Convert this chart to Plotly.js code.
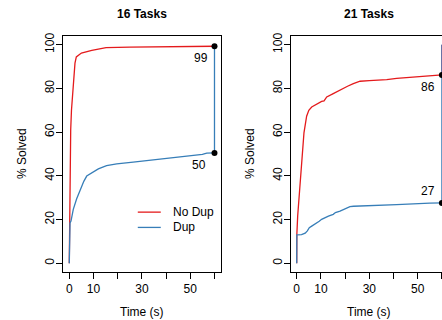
<!DOCTYPE html>
<html>
<head>
<meta charset="utf-8">
<script src="https://cdn.plot.ly/plotly-3.0.1.min.js"></script>
<style>html,body{margin:0;padding:0;background:#fff;}#chart{width:442px;height:320px;}</style>
</head>
<body>
<div id="chart"></div>
<script>
// ---- data ----
const panelTitles = ["16 Tasks", "21 Tasks"];
const seriesNames = ["No Dup", "Dup"];
const xTickVals = [0, 10, 20, 30, 40, 50, 60];
const xTickText = ["0", "10", "", "30", "", "50", ""];
const yTickVals = [0, 20, 40, 60, 80, 100];

const timeLeftNoDup   = [0, 0.1, 0.3, 0.58, 0.9, 1.24, 1.8, 2.35, 2.9, 5, 9.3, 12, 15.2, 25, 40, 60];
const solvedLeftNoDup = [0, 18, 40, 61, 70, 76.4, 86, 91.6, 94.4, 96.2, 97.4, 98.1, 98.7, 98.9, 99.0, 99.3];
const timeLeftDup     = [0, 0.05, 0.3, 0.7, 1.65, 3.05, 4.5, 6, 7.2, 8.5, 9.9, 12, 15.4, 19.6, 26.4, 34.7, 40, 45, 51, 55, 56.8, 60];
const solvedLeftDup   = [0, 17.5, 18.5, 19.3, 24.7, 29.5, 33.5, 37.5, 39.9, 40.8, 41.7, 43.2, 44.7, 45.5, 46.3, 47.4, 48, 48.6, 49.4, 49.8, 50.4, 50.5];

const timeRightNoDup   = [0, 0.05, 0.4, 1.36, 2.0, 2.5, 3.0, 4.1, 5, 6.2, 8, 10.3, 11.3, 12.4, 15.1, 17, 19.3, 21, 23.4, 26.2, 30, 37.2, 41.3, 50, 60];
const solvedRightNoDup = [0, 13, 21.6, 35.3, 47.5, 50.5, 59.7, 67.3, 70, 71.5, 72.8, 74.1, 74.3, 76.1, 77.6, 78.8, 80.2, 81.0, 82.2, 83.3, 83.6, 84.0, 84.6, 85.4, 86.2];
const timeRightDup     = [0, 0.05, 2, 3.5, 4.4, 5.2, 6.2, 8.3, 9.3, 10.3, 11.5, 13.1, 15.1, 16, 17.9, 20, 22, 23.5, 27.5, 41.3, 55, 60];
const solvedRightDup   = [0, 13, 13.1, 13.8, 14.8, 16.3, 17, 18.3, 19.2, 20.1, 20.8, 21.6, 22.4, 23.2, 23.9, 25, 25.9, 26.1, 26.2, 26.8, 27.5, 27.6];

const endTime = 60;
const endLabelsLeft = ["99", "50"];
const endLabelsRight = ["86", "27"];
const rightTop = 100;

// ---- styling ----
const RED = "#E41A1C", BLUE = "#377EB8";
const FONT = "Liberation Sans, Arial, Helvetica, sans-serif";
const W = 442, H = 320;

function line(x, y, color, xa, ya, w) {
  return {x: x, y: y, type: "scatter", mode: "lines", xaxis: xa, yaxis: ya,
          line: {color: color, width: w || 1.3}, showlegend: false, hoverinfo: "skip"};
}
function last(a) { return a[a.length - 1]; }

const traces = [
  line(timeLeftNoDup, solvedLeftNoDup, RED, "x", "y"),
  line(timeLeftDup, solvedLeftDup, BLUE, "x", "y"),
  line([endTime, endTime], [last(solvedLeftDup), last(solvedLeftNoDup)], BLUE, "x", "y"),
  {x: [endTime, endTime], y: [last(solvedLeftNoDup), last(solvedLeftDup)], type: "scatter", mode: "markers",
   xaxis: "x", yaxis: "y", marker: {color: "#000", size: 6}, showlegend: false, cliponaxis: false},

  line(timeRightNoDup, solvedRightNoDup, RED, "x2", "y2"),
  line(timeRightDup, solvedRightDup, BLUE, "x2", "y2"),
  line([endTime, endTime], [last(solvedRightDup), rightTop], BLUE, "x2", "y2"),
  line([endTime, endTime], [last(solvedRightNoDup), rightTop], "#6a6599", "x2", "y2"),
  {x: [endTime, endTime], y: [last(solvedRightNoDup), last(solvedRightDup)], type: "scatter", mode: "markers",
   xaxis: "x2", yaxis: "y2", marker: {color: "#000", size: 6}, showlegend: false, cliponaxis: true}
];

const xCommon = {
  tickvals: xTickVals, ticktext: xTickText, ticks: "outside", ticklen: 6, tickcolor: "#000",
  showline: true, linecolor: "#000", linewidth: 1, mirror: true, showgrid: false, zeroline: false,
  tickfont: {family: FONT, size: 12, color: "#000"}, fixedrange: true
};
const yCommon = {
  range: [-4, 104], tickvals: yTickVals, ticks: "outside", ticklen: 6, tickcolor: "#000",
  showline: true, linecolor: "#000", linewidth: 1, showgrid: false, zeroline: false, tickangle: -90,
  ticklabelstandoff: -3,
  tickfont: {family: FONT, size: 12, color: "#000"}, fixedrange: true
};

const annFont = {family: FONT, size: 12, color: "#000"};
const annotations = [
  {text: "<b>" + panelTitles[0] + "</b>", xref: "paper", yref: "paper", x: 142 / W, y: 1, yshift: 22, xanchor: "center", yanchor: "middle", showarrow: false, font: annFont},
  {text: "<b>" + panelTitles[1] + "</b>", xref: "paper", yref: "paper", x: 369 / W, y: 1, yshift: 22, xanchor: "center", yanchor: "middle", showarrow: false, font: annFont},
  {text: "Time (s)", xref: "paper", yref: "paper", x: 142 / W, y: 0, yshift: -40, xanchor: "center", yanchor: "middle", showarrow: false, font: annFont},
  {text: "Time (s)", xref: "paper", yref: "paper", x: 369 / W, y: 0, yshift: -40, xanchor: "center", yanchor: "middle", showarrow: false, font: annFont},
  {text: "% Solved", xref: "paper", yref: "paper", x: 22 / W, y: 0.5, textangle: -90, xanchor: "center", yanchor: "middle", showarrow: false, font: annFont},
  {text: "% Solved", xref: "paper", yref: "paper", x: 250 / W, y: 0.5, textangle: -90, xanchor: "center", yanchor: "middle", showarrow: false, font: annFont},
  {text: endLabelsLeft[0], xref: "x", yref: "y", x: endTime, y: last(solvedLeftNoDup), xanchor: "right", xshift: -4, yshift: -12, showarrow: false, font: annFont},
  {text: endLabelsLeft[1], xref: "x", yref: "y", x: endTime, y: last(solvedLeftDup), xanchor: "right", xshift: -6, yshift: -12, showarrow: false, font: annFont},
  {text: endLabelsRight[0], xref: "x2", yref: "y2", x: endTime, y: last(solvedRightNoDup), xanchor: "right", xshift: -5, yshift: -12, showarrow: false, font: annFont},
  {text: endLabelsRight[1], xref: "x2", yref: "y2", x: endTime, y: last(solvedRightDup), xanchor: "right", xshift: -5, yshift: 12, showarrow: false, font: annFont},
  // legend text
  {text: seriesNames[0], xref: "x", yref: "y", x: 42.0, y: 23.4, xanchor: "left", showarrow: false, font: annFont},
  {text: seriesNames[1], xref: "x", yref: "y", x: 42.0, y: 16.4, xanchor: "left", showarrow: false, font: annFont}
];
const shapes = [
  {type: "line", xref: "x", yref: "y", x0: 28.3, x1: 37.8, y0: 23.4, y1: 23.4, line: {color: RED, width: 1.3}},
  {type: "line", xref: "x", yref: "y", x0: 28.3, x1: 37.8, y0: 16.4, y1: 16.4, line: {color: BLUE, width: 1.3}}
];

const layout = {
  width: W, height: H, margin: {l: 0, r: 0, t: 36, b: 48, pad: 0},
  paper_bgcolor: "#fff", plot_bgcolor: "#fff", showlegend: false,
  xaxis: Object.assign({}, xCommon, {domain: [63 / W, 221 / W], range: [-2.6, 62.69], anchor: "y"}),
  yaxis: Object.assign({}, yCommon, {domain: [0, 1], mirror: true, anchor: "x"}),
  xaxis2: Object.assign({}, xCommon, {domain: [291 / W, 1], range: [-2.36, 60.04], anchor: "y2"}),
  yaxis2: Object.assign({}, yCommon, {domain: [0, 1], mirror: false, anchor: "x2"}),
  annotations: annotations, shapes: shapes, font: {family: FONT}
};

Plotly.newPlot("chart", traces, layout, {staticPlot: true, displayModeBar: false});
</script>
</body>
</html>
